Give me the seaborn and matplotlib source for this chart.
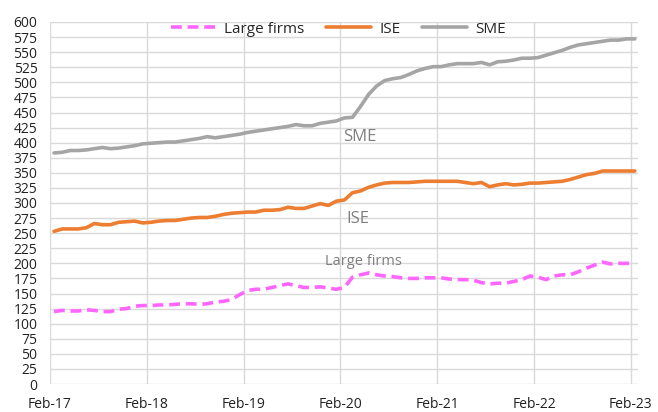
import numpy as np
import pandas as pd
import matplotlib
matplotlib.use("Agg")
import matplotlib.pyplot as plt
import seaborn as sns

# monthly index values, Feb-17 .. Feb-23 (73 points)
large_firms = [120, 122, 121, 121, 123, 122, 120, 120, 124, 125, 129, 130,
               130, 131, 131, 132, 133, 133, 132, 133, 136, 137, 140, 148,
               155, 157, 157, 160, 163, 166, 163, 160, 160, 161, 159, 157,
               160, 177, 181, 184, 181, 179, 178, 176, 175, 175, 176, 176,
               176, 174, 173, 173, 172, 168, 166, 167, 167, 170, 173, 179,
               177, 173, 179, 181, 181, 186, 192, 197, 202, 199, 200, 200,
               200]
ise = [253, 257, 257, 257, 259, 266, 264, 264, 268, 269, 270, 267,
       268, 270, 271, 271, 273, 275, 276, 276, 278, 281, 283, 284,
       285, 285, 288, 288, 289, 293, 291, 291, 295, 299, 296, 303,
       305, 317, 320, 326, 330, 333, 334, 334, 334, 335, 336, 336,
       336, 336, 336, 334, 332, 334, 327, 330, 332, 330, 331, 333,
       333, 334, 335, 336, 339, 343, 347, 349, 353, 353, 353, 353,
       353]
sme = [383, 384, 387, 387, 388, 390, 392, 390, 391, 393, 395, 398,
       399, 400, 401, 401, 403, 405, 407, 410, 408, 410, 412, 414,
       417, 419, 421, 423, 425, 427, 430, 428, 428, 432, 434, 436,
       441, 442, 460, 480, 494, 503, 506, 508, 513, 519, 523, 526,
       526, 529, 531, 531, 531, 533, 529, 534, 535, 537, 540, 540,
       541, 545, 549, 553, 558, 562, 564, 566, 568, 570, 570, 572,
       572]
tick_labels = ["Feb-17", "Feb-18", "Feb-19", "Feb-20", "Feb-21", "Feb-22", "Feb-23"]
series_names = ["Large firms", "ISE", "SME"]
colors = {"Large firms": "#FF66FF", "ISE": "#ED7D31", "SME": "#A5A5A5"}

months = np.arange(len(sme))
df = pd.DataFrame({"month": months, "Large firms": large_firms, "ISE": ise, "SME": sme})
long = df.melt(id_vars="month", var_name="series", value_name="value")

sns.set_style("white")
plt.rcParams["font.family"] = ["Open Sans", "DejaVu Sans"]

fig = plt.figure(figsize=(6.58, 4.12), dpi=100)
ax = fig.add_axes([50 / 658, 1 - 384 / 412, 588 / 658, 362 / 412])

sns.lineplot(data=long, x="month", y="value", hue="series", style="series",
             hue_order=series_names, style_order=series_names,
             palette=colors, dashes={"Large firms": (3, 1.6), "ISE": "", "SME": ""},
             linewidth=2.6, ax=ax, legend=False)

ax.set_xlim(-0.5, 72.4)
ax.set_ylim(0, 600)
ax.set_yticks(range(0, 601, 25))
ax.set_xticks([12 * k - 0.5 for k in range(len(tick_labels))])
ax.set_xticklabels(tick_labels)
ax.tick_params(axis="both", length=0, labelsize=10, colors="#222222")
ax.tick_params(axis="x", pad=9)
ax.tick_params(axis="y", pad=9)
ax.set_xlabel("")
ax.set_ylabel("")
ax.grid(True, color="#D9D9D9", linewidth=1)
ax.set_axisbelow(True)
for s in ax.spines.values():
    s.set_visible(False)

# in-chart labels
ax.text(37.9, 410, "SME", color="#7F7F7F", fontsize=12, ha="center", va="center")
ax.text(37.7, 274, "ISE", color="#7F7F7F", fontsize=12, ha="center", va="center")
ax.text(38.4, 203, "Large firms", color="#7F7F7F", fontsize=10.5, ha="center", va="center")

handles = [plt.Line2D([], [], color=colors[n], linewidth=2.6,
                      linestyle=(0, (3, 1.6)) if n == "Large firms" else "-")
           for n in series_names]
ax.legend(handles, series_names, loc="center", bbox_to_anchor=(0.49, 0.98),
          ncol=3, frameon=False, fontsize=11, handlelength=3.0, columnspacing=1.4,
          handletextpad=0.5, borderaxespad=0)

fig.savefig("out.png", dpi=100)
